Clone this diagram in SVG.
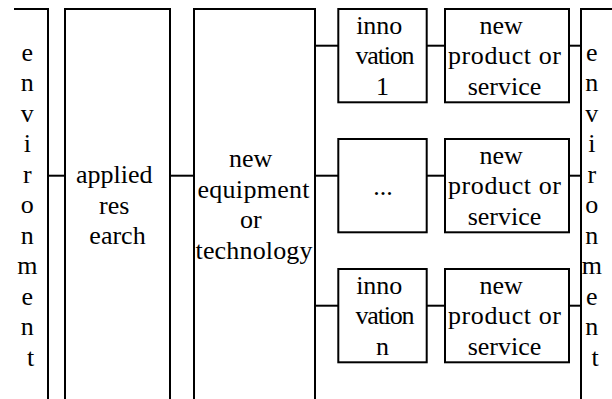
<svg xmlns="http://www.w3.org/2000/svg" width="612" height="399" viewBox="0 0 612 399">
  <style>
    .box { fill: #ffffff; stroke: #000000; stroke-width: 2; }
    .edge { fill: none; stroke: #000000; stroke-width: 2; }
    text { font-family: 'Liberation Serif', 'Times New Roman', Times, serif; font-size: 26px; fill: #000000; text-anchor: middle; }
    .fit { text-anchor: start; }
  </style>
  <rect width="612" height="399" fill="#ffffff"/>

  <!-- connectors -->
  <g id="connectors" class="edge">
    <line x1="48" y1="175.7" x2="65" y2="175.7"/>
    <line x1="170" y1="175.7" x2="194" y2="175.7"/>
    <line x1="315" y1="45.7" x2="338.3" y2="45.7"/>
    <line x1="315" y1="175.7" x2="338.3" y2="175.7"/>
    <line x1="315" y1="305.7" x2="338.3" y2="305.7"/>
    <line x1="426.7" y1="45.7" x2="445" y2="45.7"/>
    <line x1="426.7" y1="175.7" x2="445" y2="175.7"/>
    <line x1="426.7" y1="305.7" x2="445" y2="305.7"/>
    <line x1="569" y1="45.7" x2="581" y2="45.7"/>
    <line x1="569" y1="175.7" x2="581" y2="175.7"/>
    <line x1="569" y1="305.7" x2="581" y2="305.7"/>
  </g>

  <!-- environment, left edge -->
  <g id="env-left">
    <path class="edge" d="M14 9 H48 V400"/>
    <text>
      <tspan x="30.5" y="60.7">e</tspan>
      <tspan x="30.5" y="91.2">n</tspan>
      <tspan x="30.5" y="121.7">v</tspan>
      <tspan x="30.5" y="152.2">i</tspan>
      <tspan x="30.5" y="182.7">r</tspan>
      <tspan x="30.5" y="213.2">o</tspan>
      <tspan x="30.5" y="243.7">n</tspan>
      <tspan x="30.5" y="274.2">m</tspan>
      <tspan x="30.5" y="304.7">e</tspan>
      <tspan x="30.5" y="335.2">n</tspan>
      <tspan x="30.5" y="365.7">t</tspan>
    </text>
  </g>

  <!-- applied research -->
  <g id="applied-research">
    <path class="edge" d="M65 400 V9 H170 V400"/>
    <text>
      <tspan x="117.5" y="183.3">applied</tspan>
      <tspan x="117.5" y="213.6">res</tspan>
      <tspan x="117.5" y="243.9">earch</tspan>
    </text>
  </g>

  <!-- new equipment or technology -->
  <g id="new-equipment">
    <path class="edge" d="M194 400 V9 H315 V400"/>
    <text>
      <tspan x="254" y="167">new</tspan>
      <tspan class="fit" x="197.5" y="197.5" textLength="112">equipment</tspan>
      <tspan x="254" y="228">or</tspan>
      <tspan class="fit" x="195.5" y="258.5" textLength="117">technology</tspan>
    </text>
  </g>

  <!-- innovation 1 -->
  <g id="innovation-1">
    <rect class="box" x="338.3" y="9" width="88.4" height="93.3"/>
    <text>
      <tspan x="382.5" y="33.5">inno</tspan>
      <tspan class="fit" x="355.5" y="64" textLength="59">vation</tspan>
      <tspan x="382.5" y="94.5">1</tspan>
    </text>
  </g>

  <!-- innovation ... -->
  <g id="innovation-mid">
    <rect class="box" x="338.3" y="139" width="88.4" height="93.3"/>
    <text x="383" y="194.5">...</text>
  </g>

  <!-- innovation n -->
  <g id="innovation-n">
    <rect class="box" x="338.3" y="269" width="88.4" height="93.3"/>
    <text>
      <tspan x="382.5" y="293.5">inno</tspan>
      <tspan class="fit" x="355.5" y="324" textLength="59">vation</tspan>
      <tspan x="382.5" y="354.5">n</tspan>
    </text>
  </g>

  <!-- new product or service, row 1 -->
  <g id="product-1">
    <rect class="box" x="445" y="9" width="124" height="93.3"/>
    <text>
      <tspan x="504.5" y="33.5">new</tspan>
      <tspan class="fit" x="448" y="64" textLength="113">product or</tspan>
      <tspan x="504.5" y="94.5">service</tspan>
    </text>
  </g>

  <!-- new product or service, row 2 -->
  <g id="product-mid">
    <rect class="box" x="445" y="139" width="124" height="93.3"/>
    <text>
      <tspan x="504.5" y="163.5">new</tspan>
      <tspan class="fit" x="448" y="194" textLength="113">product or</tspan>
      <tspan x="504.5" y="224.5">service</tspan>
    </text>
  </g>

  <!-- new product or service, row 3 -->
  <g id="product-n">
    <rect class="box" x="445" y="269" width="124" height="93.3"/>
    <text>
      <tspan x="504.5" y="293.5">new</tspan>
      <tspan class="fit" x="448" y="324" textLength="113">product or</tspan>
      <tspan x="504.5" y="354.5">service</tspan>
    </text>
  </g>

  <!-- environment, right edge -->
  <g id="env-right">
    <path class="edge" d="M581 400 V9 H613"/>
    <text>
      <tspan x="595" y="60.7">e</tspan>
      <tspan x="595" y="91.2">n</tspan>
      <tspan x="595" y="121.7">v</tspan>
      <tspan x="595" y="152.2">i</tspan>
      <tspan x="595" y="182.7">r</tspan>
      <tspan x="595" y="213.2">o</tspan>
      <tspan x="595" y="243.7">n</tspan>
      <tspan x="595" y="274.2">m</tspan>
      <tspan x="595" y="304.7">e</tspan>
      <tspan x="595" y="335.2">n</tspan>
      <tspan x="595" y="365.7">t</tspan>
    </text>
  </g>
</svg>
